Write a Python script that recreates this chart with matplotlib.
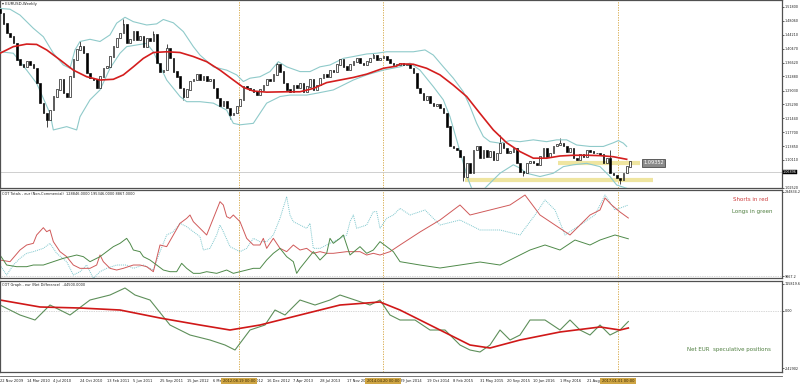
import matplotlib
matplotlib.use("Agg")
import matplotlib.pyplot as plt
import numpy as np

# ---------------- data ----------------
# EURUSD closes, one value every 2 weeks starting 22 Nov 2009 (week index = 2*i)
closes = [1.501, 1.473, 1.446, 1.437, 1.419, 1.374, 1.360, 1.355, 1.369, 1.360,
          1.351, 1.310, 1.256, 1.228, 1.210, 1.237, 1.274, 1.292, 1.319, 1.283,
          1.274, 1.328, 1.374, 1.401, 1.410, 1.392, 1.337, 1.324, 1.319, 1.296,
          1.328, 1.351, 1.355, 1.383, 1.410, 1.433, 1.446, 1.469, 1.419, 1.428,
          1.451, 1.428, 1.437, 1.410, 1.433, 1.424, 1.442, 1.365, 1.342, 1.346,
          1.405, 1.378, 1.342, 1.328, 1.296, 1.274, 1.292, 1.315, 1.319, 1.333,
          1.319, 1.328, 1.315, 1.319, 1.296, 1.269, 1.247, 1.260, 1.242, 1.224,
          1.228, 1.247, 1.265, 1.301, 1.296, 1.292, 1.287, 1.278, 1.292, 1.305,
          1.319, 1.315, 1.333, 1.360, 1.342, 1.310, 1.292, 1.287, 1.305, 1.296,
          1.310, 1.287, 1.301, 1.319, 1.292, 1.305, 1.324, 1.333, 1.328, 1.346,
          1.342, 1.360, 1.374, 1.355, 1.346, 1.360, 1.369, 1.378, 1.365, 1.360,
          1.369, 1.378, 1.387, 1.374, 1.378, 1.383, 1.374, 1.365, 1.360, 1.360,
          1.365, 1.360, 1.360, 1.351, 1.337, 1.296, 1.283, 1.265, 1.274, 1.256,
          1.247, 1.251, 1.242, 1.228, 1.192, 1.138, 1.133, 1.128, 1.110, 1.056,
          1.092, 1.065, 1.128, 1.138, 1.106, 1.128, 1.110, 1.124, 1.101, 1.119,
          1.147, 1.133, 1.119, 1.124, 1.133, 1.092, 1.069, 1.065, 1.092, 1.097,
          1.092, 1.088, 1.110, 1.133, 1.110, 1.119, 1.138, 1.142, 1.147, 1.138,
          1.124, 1.133, 1.106, 1.101, 1.115, 1.110, 1.128, 1.124, 1.119, 1.119,
          1.115, 1.092, 1.106, 1.065, 1.060, 1.051, 1.047, 1.065, 1.083, 1.097]
first_open = 1.510
spike_highs = {0: 1.512, 24: 1.425, 37: 1.485, 46: 1.452, 50: 1.418, 83: 1.368,
               112: 1.392, 150: 1.170, 168: 1.160, 183: 1.128}
spike_lows = {14: 1.190, 55: 1.265, 69: 1.212, 139: 1.045, 157: 1.058, 186: 1.036}

ma_weeks = [0, 8, 16, 22, 28, 36, 44, 52, 60, 68, 74, 80, 86, 92, 100, 108, 116, 124,
            132, 140, 146, 152, 160, 172, 180, 188, 196, 204, 212, 220, 230, 238,
            240, 248, 256, 264, 272, 280, 288, 296, 304, 312, 320, 328, 336, 344,
            352, 360, 368, 376]
ma_vals = [1.392, 1.410, 1.417, 1.416, 1.401, 1.374, 1.346, 1.328, 1.319, 1.321, 1.333,
           1.355, 1.378, 1.394, 1.396, 1.394, 1.383, 1.369, 1.346, 1.319, 1.299, 1.289,
           1.286, 1.287, 1.287, 1.296, 1.312, 1.319, 1.326, 1.335, 1.351, 1.357,
           1.363, 1.362, 1.351, 1.333, 1.305, 1.274, 1.228, 1.183, 1.148, 1.124,
           1.106, 1.106, 1.112, 1.114, 1.114, 1.113, 1.110, 1.103]

bbu_weeks = [0, 6, 12, 20, 26, 32, 38, 42, 45, 48, 54, 60, 66, 70, 75, 80, 88, 94, 98,
             104, 110, 116, 120, 128, 136, 142, 146, 150, 156, 162, 167, 172, 180, 186,
             192, 198, 206, 212, 220, 226, 232, 240, 248, 255, 260, 266, 272, 278, 282,
             286, 290, 294, 300, 306, 312, 320, 328, 334, 340, 346, 354, 362, 368, 371,
             374, 376]
bbu_vals = [1.514, 1.512, 1.496, 1.460, 1.437, 1.392, 1.360, 1.351, 1.401, 1.424, 1.430,
            1.424, 1.442, 1.474, 1.490, 1.478, 1.469, 1.472, 1.484, 1.475, 1.451, 1.410,
            1.387, 1.355, 1.346, 1.333, 1.315, 1.324, 1.328, 1.342, 1.369, 1.355, 1.342,
            1.342, 1.355, 1.360, 1.378, 1.383, 1.390, 1.392, 1.396, 1.396, 1.396, 1.401,
            1.387, 1.355, 1.324, 1.287, 1.247, 1.201, 1.165, 1.151, 1.147, 1.154, 1.151,
            1.156, 1.151, 1.156, 1.156, 1.142, 1.138, 1.138, 1.148, 1.154, 1.147, 1.138]

bbl_weeks = [0, 8, 16, 22, 30, 32, 40, 46, 48, 54, 60, 66, 72, 76, 88, 92, 100, 108, 112,
             120, 128, 136, 140, 144, 152, 160, 168, 174, 184, 190, 200, 212, 220, 230,
             240, 246, 252, 260, 266, 270, 274, 278, 281, 283, 286, 290, 294, 300, 308,
             312, 316, 324, 332, 338, 344, 352, 360, 366, 370, 376]
bbl_vals = [1.396, 1.392, 1.346, 1.310, 1.228, 1.183, 1.192, 1.183, 1.219, 1.265, 1.292,
            1.351, 1.392, 1.410, 1.419, 1.396, 1.319, 1.274, 1.260, 1.260, 1.256, 1.237,
            1.201, 1.197, 1.201, 1.256, 1.274, 1.278, 1.278, 1.283, 1.292, 1.319, 1.333,
            1.346, 1.355, 1.365, 1.346, 1.301, 1.265, 1.219, 1.156, 1.092, 1.047, 1.024,
            1.010, 1.020, 1.038, 1.065, 1.088, 1.079, 1.065, 1.056, 1.065, 1.083, 1.088,
            1.092, 1.083, 1.056, 1.033, 1.024]

price_ticks = [1.51800, 1.48060, 1.44210, 1.40470, 1.36620, 1.32880, 1.29030,
               1.25290, 1.21440, 1.17700, 1.13850, 1.10110, 1.02520]
bid_price = 1.0684
bid_label = "1.06896"
level_price = 1.0935
level_label = "1.09352"
support_price = 1.0466

# COT Totals (contracts, thousands)
shorts_weeks = [0, 6, 12, 16, 20, 22, 26, 28, 30, 32, 36, 40, 44, 48, 54, 58, 60, 62, 66,
                70, 74, 80, 84, 88, 92, 96, 100, 104, 108, 112, 114, 116, 120, 124, 128,
                132, 134, 136, 138, 140, 144, 148, 152, 156, 158, 160, 164, 168, 172, 176,
                180, 184, 188, 192, 196, 200, 208, 216, 220, 224, 228, 234, 240, 252, 264,
                276, 282, 294, 306, 315, 324, 333, 342, 348, 354, 360, 363, 367, 372, 377]
shorts_k = [61.0, 55.7, 93.0, 109.0, 114.3, 141.0, 164.4, 151.6, 157.0, 119.7, 87.7, 71.7,
            45.0, 34.4, 34.4, 45.0, 77.0, 55.7, 34.4, 29.0, 34.4, 45.0, 45.0, 39.7, 23.7,
            109.0, 103.7, 141.0, 178.3, 194.2, 204.9, 183.6, 162.3, 141.0, 194.2, 247.5,
            236.9, 199.6, 194.2, 204.9, 183.6, 130.3, 109.0, 109.0, 130.3, 98.3, 130.3,
            98.3, 87.7, 109.0, 93.0, 98.3, 82.4, 87.7, 82.4, 82.4, 87.7, 87.7, 77.0, 82.4,
            77.0, 87.7, 109.0, 150.6, 188.9, 236.9, 204.9, 220.9, 236.9, 268.8, 204.9,
            172.9, 141.0, 172.9, 204.9, 220.9, 259.3, 236.9, 214.5, 195.3]
longs_weeks = [0, 4, 10, 16, 20, 26, 32, 38, 42, 46, 50, 54, 60, 64, 68, 72, 76, 78, 80,
               84, 86, 90, 94, 98, 102, 106, 109, 112, 116, 120, 124, 130, 136, 140, 144,
               148, 152, 156, 160, 164, 168, 172, 176, 178, 180, 184, 188, 192, 196, 198,
               200, 204, 206, 210, 216, 220, 224, 228, 232, 236, 240, 252, 264, 276, 288,
               300, 312, 318, 327, 336, 345, 354, 360, 369, 377]
longs_k = [77.0, 45.0, 39.7, 39.7, 45.0, 45.0, 55.7, 66.4, 71.7, 77.0, 71.7, 55.7, 71.7,
           87.7, 103.7, 114.3, 130.3, 114.3, 93.0, 87.7, 71.7, 61.0, 45.0, 29.0, 23.7,
           23.7, 50.4, 34.4, 18.4, 18.4, 23.7, 18.4, 29.0, 18.4, 23.7, 29.0, 34.4, 34.4,
           61.0, 82.4, 98.3, 71.7, 55.7, 18.4, 34.4, 61.0, 87.7, 61.0, 82.4, 130.3, 114.3,
           130.3, 141.0, 77.0, 103.7, 82.4, 93.0, 119.7, 103.7, 87.7, 55.7, 45.0, 35.5,
           45.0, 54.6, 45.0, 77.0, 93.0, 109.0, 93.0, 124.9, 109.0, 124.9, 141.0, 128.8]
other_weeks = [0, 4, 8, 12, 16, 20, 26, 30, 34, 40, 44, 48, 52, 56, 60, 64, 70, 76, 80,
               86, 92, 96, 100, 104, 108, 112, 116, 120, 122, 126, 130, 132, 134, 138,
               144, 148, 152, 156, 160, 164, 168, 172, 174, 176, 180, 184, 186, 188, 192,
               196, 200, 204, 208, 210, 212, 214, 220, 224, 226, 228, 232, 236, 240, 246,
               255, 264, 276, 288, 300, 312, 321, 327, 333, 339, 348, 357, 363, 369, 377]
other_k = [45.0, 13.1, 45.0, 66.4, 82.4, 87.7, 98.3, 114.3, 82.4, 55.7, 13.1, 23.7, 45.0,
           2.4, 23.7, 34.4, 45.0, 45.0, 34.4, 45.0, 29.0, 87.7, 141.0, 151.6, 178.3, 167.6,
           151.6, 135.6, 93.0, 98.3, 141.0, 172.9, 151.6, 103.7, 87.7, 98.3, 130.3, 119.7,
           119.7, 141.0, 194.2, 263.5, 204.9, 183.6, 172.9, 162.3, 178.3, 98.3, 98.3,
           109.0, 119.7, 130.3, 141.0, 183.6, 204.9, 162.3, 172.9, 215.6, 215.6, 162.3,
           194.2, 204.9, 226.2, 204.9, 220.9, 172.9, 188.9, 157.0, 157.0, 141.0, 204.9,
           252.9, 220.9, 141.0, 172.9, 204.9, 268.8, 220.9, 236.9]

# COT Graph - net difference (thousands)
net_weeks = [0, 12, 21, 30, 42, 54, 66, 75, 81, 90, 102, 114, 126, 135, 141, 150, 159,
             165, 171, 180, 189, 198, 204, 213, 222, 228, 234, 240, 249, 258, 267, 276,
             282, 288, 294, 300, 306, 312, 318, 327, 336, 342, 348, 354, 360, 366, 372, 377]
net_k = [25.4, -17.0, -38.2, 25.4, -17.0, 46.6, 67.8, 97.5, 67.8, 46.6, -59.4, -101.8,
         -123.0, -144.2, -165.4, -80.6, -59.4, 4.2, -17.0, 46.6, 25.4, 46.6, 67.8, 46.6,
         25.4, 46.6, -17.0, -38.2, -38.2, -80.6, -80.6, -144.2, -165.4, -173.8, -144.2,
         -80.6, -123.0, -101.8, -38.2, -38.2, -80.6, -38.2, -80.6, -101.8, -59.4, -101.8,
         -80.6, -44.5]
netma_weeks = [0, 24, 48, 72, 96, 120, 138, 156, 180, 204, 228, 240, 264, 282, 294, 312,
               336, 360, 372, 377]
netma_k = [46.6, 17.0, 12.7, 4.2, -29.7, -59.4, -80.6, -59.4, -17.0, 25.4, 38.2, 4.2,
           -80.6, -144.2, -156.9, -123.0, -89.0, -67.8, -80.6, -72.1]

date_labels = ["22 Nov 2009", "14 Mar 2010", "4 Jul 2010", "24 Oct 2010", "13 Feb 2011",
               "5 Jun 2011", "25 Sep 2011", "15 Jan 2012", "6 May 2012", "26 Aug 2012",
               "16 Dec 2012", "7 Apr 2013", "28 Jul 2013", "17 Nov 2013",
               "29 Jun 2014", "19 Oct 2014", "8 Feb 2015", "31 May 2015", "20 Sep 2015",
               "10 Jan 2016", "1 May 2016", "21 Aug 2016", "11 Dec 2016"]
date_weeks = [0, 16, 32, 48, 64, 80, 96, 112, 128, 144, 160, 176, 192, 208, 240,
              256, 272, 288, 304, 320, 336, 352, 368]
sep_weeks = [143.4, 229.8, 370.8]
sep_labels = ["2012.08.19 00:00", "2014.04.20 00:00", "2017.01.01 00:00"]

# ---------------- figure ----------------
W, H = 800, 386
fig = plt.figure(figsize=(W / 100, H / 100), dpi=100)
fig.patch.set_facecolor("white")
XMAX = 782 / (5 / 3)

def ax_px(top, bottom, left=0, right=782):
    return fig.add_axes([left / W, 1 - bottom / H, (right - left) / W, (bottom - top) / H])

def fx(x):
    return x / W

def fy(y):
    return 1 - y / H

ax1 = ax_px(0, 188)
ax2 = ax_px(190, 278)
ax3 = ax_px(281, 372)
FS = 2.45
for ax in (ax1, ax2, ax3):
    ax.set_xlim(0, XMAX)
    ax.set_xticks([])
    for s in ax.spines.values():
        s.set_color("#505050")
        s.set_linewidth(0.9)
    ax.yaxis.tick_right()
    ax.tick_params(axis="y", labelsize=FS, length=1.4, width=0.5, pad=0.6, colors="#202020")
    for w in sep_weeks:
        ax.axvline(w, color="#d4a23a", lw=0.6, ls=(0, (1.5, 1.5)), zorder=1)

# main panel
p_top = 1.518 + 7 * 0.002725
p_bot = 1.518 - 181 * 0.002725
ax1.set_ylim(p_bot, p_top)
ax1.set_yticks(price_ticks)
ax1.set_yticklabels([f"{t:.5f}" for t in price_ticks])

ax1.axhline(bid_price, color="#c8c8c8", lw=0.6, zorder=1)
ax1.plot([279, 392], [support_price] * 2, color="#efe5a0", lw=3, solid_capstyle="butt", zorder=2)
ax1.plot([335, 384], [level_price] * 2, color="#efe5a0", lw=3, solid_capstyle="butt", zorder=2)

cl = np.array(closes)
op = np.concatenate([[first_open], cl[:-1]])
xw = np.arange(len(cl)) * 2.0
lo = np.minimum(op, cl)
hi = np.maximum(op, cl)
for i, v in spike_highs.items():
    ax1.vlines(xw[i], hi[i], v, color="black", lw=0.5, zorder=3)
for i, v in spike_lows.items():
    ax1.vlines(xw[i], v, lo[i], color="black", lw=0.5, zorder=3)
up = cl >= op
ax1.bar(xw[up], hi[up] - lo[up] + 0.0015, bottom=lo[up], width=1.0, color="white",
        edgecolor="black", lw=0.45, zorder=4)
ax1.bar(xw[~up], hi[~up] - lo[~up] + 0.0015, bottom=lo[~up], width=1.0, color="black",
        edgecolor="black", lw=0.45, zorder=4)

ax1.plot(bbu_weeks, bbu_vals, color="#8fcaca", lw=0.8, zorder=3)
ax1.plot(bbl_weeks, bbl_vals, color="#8fcaca", lw=0.8, zorder=3)
ax1.plot(ma_weeks, ma_vals, color="#d41e1e", lw=1.2, zorder=5)

ax1.text(386, level_price, level_label, fontsize=3.6, color="white", va="center",
         ha="left", zorder=6,
         bbox=dict(boxstyle="square,pad=0.25", fc="#8a8a8a", ec="#333333", lw=0.5))
fig.text(fx(783), fy(172), bid_label, fontsize=FS, color="white", va="center", ha="left",
         bbox=dict(boxstyle="square,pad=0.12", fc="black", ec="black", lw=0.3))
fig.text(fx(2), fy(4), "\u25BE EURUSD,Weekly", fontsize=2.8, color="#202020", va="center")

# COT totals
k_top = 284.834
k_per_px = 3.197
ax2.set_ylim(k_top - 88 * k_per_px, k_top)
ax2.set_yticks([k_top - 1.5 * k_per_px, k_top - 86 * k_per_px])
ax2.set_yticklabels(["284834.2", "9867.2"])
ax2.axhline(k_top - 86 * k_per_px, color="#b0b0b0", lw=0.5, ls=(0, (1, 1.5)))
ax2.plot(other_weeks, other_k, color="#7cc6cc", lw=0.7, ls=(0, (1, 1)))
ax2.plot(shorts_weeks, shorts_k, color="#d05a5a", lw=0.7)
ax2.plot(longs_weeks, longs_k, color="#4f8a4a", lw=0.7)
fig.text(fx(2), fy(194), "COT Totals - eur (Non-Commercial)  128846.0000 195346.0000 8867.0000",
         fontsize=2.5, color="#202020", va="center")
fig.text(fx(751), fy(200), "Shorts in red", fontsize=4, color="#cc3a3a", ha="center", va="center")
fig.text(fx(752), fy(212), "Longs in green", fontsize=4, color="#4f7f40", ha="center", va="center")

# COT graph
n_per_px = 4.24
ax3.set_ylim(-(372 - 311) * n_per_px, (311 - 281) * n_per_px)
ax3.set_yticks([115.8196, 0.0, -242.902])
ax3.set_yticklabels(["115819.6", "0.00", "-242902"])
ax3.axhline(0, color="#b0b0b0", lw=0.5, ls=(0, (1, 1.5)))
ax3.plot(net_weeks, net_k, color="#5e8f5a", lw=0.8)
ax3.plot(netma_weeks, netma_k, color="#d01818", lw=1.2)
fig.text(fx(2), fy(285), "COT Graph - eur (Net Difference)  -44500.0000",
         fontsize=2.5, color="#202020", va="center")
fig.text(fx(771), fy(349), "Net EUR  speculative positions", fontsize=4, color="#4f7f40",
         ha="right", va="center")

# time scale
fig.add_artist(plt.Line2D([0, 782 / W], [fy(375.5)] * 2, color="#606060", lw=0.6))
for d, w in zip(date_labels, date_weeks):
    fig.text(fx(w * 5 / 3), fy(381), d, fontsize=2.6, color="#202020", va="center", ha="left")
for w, s in zip(sep_weeks, sep_labels):
    fig.text(fx(w * 5 / 3), fy(381), s, fontsize=2.6, color="#3a2a00", va="center", ha="center",
             zorder=10, bbox=dict(boxstyle="square,pad=0.35", fc="#cfa544", ec="none"))

fig.savefig("out.png", dpi=100, facecolor="white")
